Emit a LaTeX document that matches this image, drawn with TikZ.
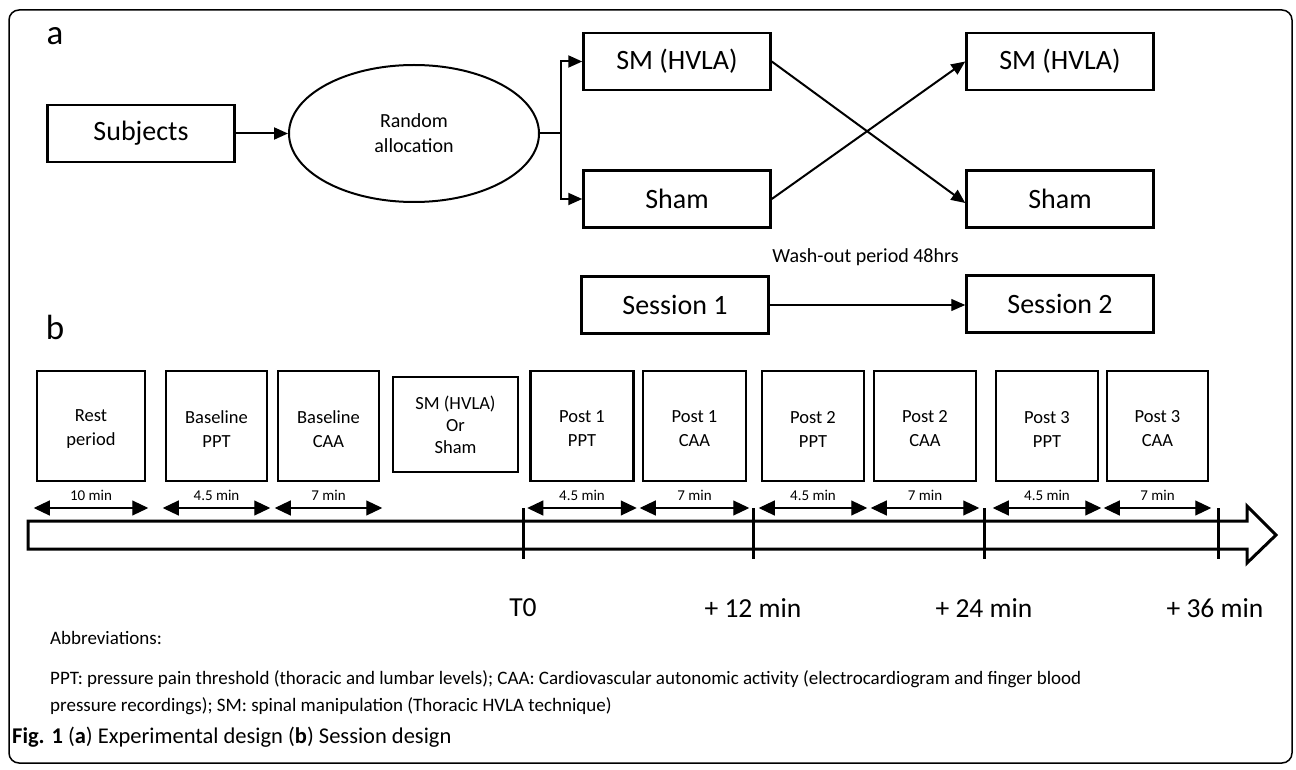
\documentclass[tikz,border=0pt]{standalone}
\usepackage{fontspec}
\setmainfont{Carlito}
\usetikzlibrary{arrows.meta,shapes.geometric}
\tikzset{
  fs/.style={font=\fontsize{#1}{#1}\selectfont},
  bigbox/.style={draw, line width=2.5pt, inner sep=0pt, minimum width=187pt, minimum height=57pt, fs=28},
  rnd/.style={draw, ellipse, line width=2pt, inner sep=0pt, minimum width=250pt, minimum height=137pt, align=center, font=\fontsize{20}{25}\selectfont},
  arr/.style={line width=2pt, -{Triangle[length=14pt,width=12pt]}},
  thinarr/.style={line width=1.2pt, -{Triangle[length=14pt,width=12pt]}},
  sbox/.style={draw, line width=2.5pt, inner sep=0pt, minimum height=110pt,
    label={[yshift=-3pt, align=center, font=\fontsize{18.5}{24}\selectfont]center:#1}},
  smbox/.style={draw, line width=1.2pt, inner sep=0pt, minimum height=95pt, minimum width=125pt, align=center, font=\fontsize{18.5}{22}\selectfont},
  dim/.style={line width=1.1pt, {Triangle[length=16pt,width=15pt]}-{Triangle[length=16pt,width=15pt]}, shorten <=-2pt, shorten >=-2pt},
  dimlab/.style={fs=15, above=7pt, inner sep=0pt},
  tick/.style={line width=3pt},
  tlab/.style={fs=27.5, anchor=center},
  plain/.style={inner sep=0pt, anchor=west, font=\fontsize{19}{27}\selectfont}
}
\begin{document}
\begin{tikzpicture}[x=1pt,y=-1pt]
\useasboundingbox (0,0) rectangle (1296,770);
% frame
\draw[line width=1.5pt, rounded corners=10pt] (9,10) rectangle (1292,763);

% panel a
\node[fs=35, inner sep=0pt] (la) at (55,36) {a};
\node[bigbox] (subj) at (141,133.5) {Subjects};
\node[rnd] (rand) at (414,133.5) {Random\\allocation};
\node[bigbox] (sm1) at (677,61.5) {SM (HVLA)};
\node[bigbox] (sh1) at (677,199) {Sham};
\node[bigbox] (sm2) at (1060,61.5) {SM (HVLA)};
\node[bigbox] (sh2) at (1060,199) {Sham};
\coordinate (junc) at (561,133.5);
\draw[arr] (subj.east) -- (rand.west);
\draw[line width=2pt] (rand.east) -- (junc);
\draw[arr] (junc) |- (sm1.west);
\draw[arr] (junc) |- (sh1.west);
\draw[arr] (sm1.east) -- ([yshift=-4pt]sh2.west);
\draw[arr] (sh1.east) -- (sm2.west);
\node[fs=20] (wash) at (865.5,257) {Wash-out period 48hrs};
\node[bigbox] (s1) at (675,305) {Session 1};
\node[bigbox] (s2) at (1060,304) {Session 2};
\draw[thinarr] (s1.east) -- (s1.east -| s2.west);

% panel b
\node[fs=35, inner sep=0pt] (lb) at (55,327) {b};
\node[sbox={Rest\\period}, minimum width=108pt] (rest) at (91,426) {};
\node[sbox={Baseline\\PPT}, minimum width=101pt] (bppt) at (216.5,426) {};
\node[sbox={Baseline\\CAA}, minimum width=101pt] (bcaa) at (328.5,426) {};
\node[smbox] (smor) at (455.5,424.5) {SM (HVLA)\\Or\\Sham};
\node[sbox={Post 1\\PPT}, minimum width=103pt] (p1ppt) at (582,426) {};
\node[sbox={Post 1\\CAA}, minimum width=103pt] (p1caa) at (694.5,426) {};
\node[sbox={Post 2\\PPT}, minimum width=102pt] (p2ppt) at (813,426) {};
\node[sbox={Post 2\\CAA}, minimum width=102pt] (p2caa) at (925,426) {};
\node[sbox={Post 3\\PPT}, minimum width=102pt] (p3ppt) at (1047,426) {};
\node[sbox={Post 3\\CAA}, minimum width=101pt] (p3caa) at (1157.5,426) {};

\coordinate (dy) at (0,508);
\foreach \b/\t in {rest/10 min, bppt/4.5 min, bcaa/7 min, p1ppt/4.5 min, p1caa/7 min, p2ppt/4.5 min, p2caa/7 min, p3ppt/4.5 min, p3caa/7 min}{
  \draw[dim] (\b.west |- dy) -- (\b.east |- dy) node[midway, dimlab] {\t};
}

% timeline arrow
\draw[line width=3pt, miter limit=10] (28,521) -- (1247,521) -- (1247,506) -- (1276,535) -- (1247,563) -- (1247,549) -- (28,549) -- cycle;
\foreach \n/\x in {t0/523, t1/753, t2/984, t3/1218}{
  \coordinate (\n top) at (\x,508);
  \coordinate (\n bot) at (\x,559);
  \draw[tick] (\n top) -- (\n bot);
}
\node[tlab] (lt0) at (523,608) {T0};
\node[tlab] (lt1) at (753,608) {+ 12 min};
\node[tlab] (lt2) at (984,608) {+ 24 min};
\node[tlab] (lt3) at (1215,608) {+ 36 min};

% abbreviations
\node[plain] (abbr) at (50,638) {Abbreviations:};
\node[plain, align=left, anchor=north west] (def) at (50,670) {PPT: pressure pain threshold (thoracic and lumbar levels); CAA: Cardiovascular autonomic activity (electrocardiogram and finger blood\\pressure recordings); SM: spinal manipulation (Thoracic HVLA technique)};
\node[plain, font=\fontsize{22.5}{27}\selectfont] (cap) at (12,737) {\textbf{Fig. 1} (\textbf{a}) Experimental design (\textbf{b}) Session design};
\end{tikzpicture}
\end{document}
